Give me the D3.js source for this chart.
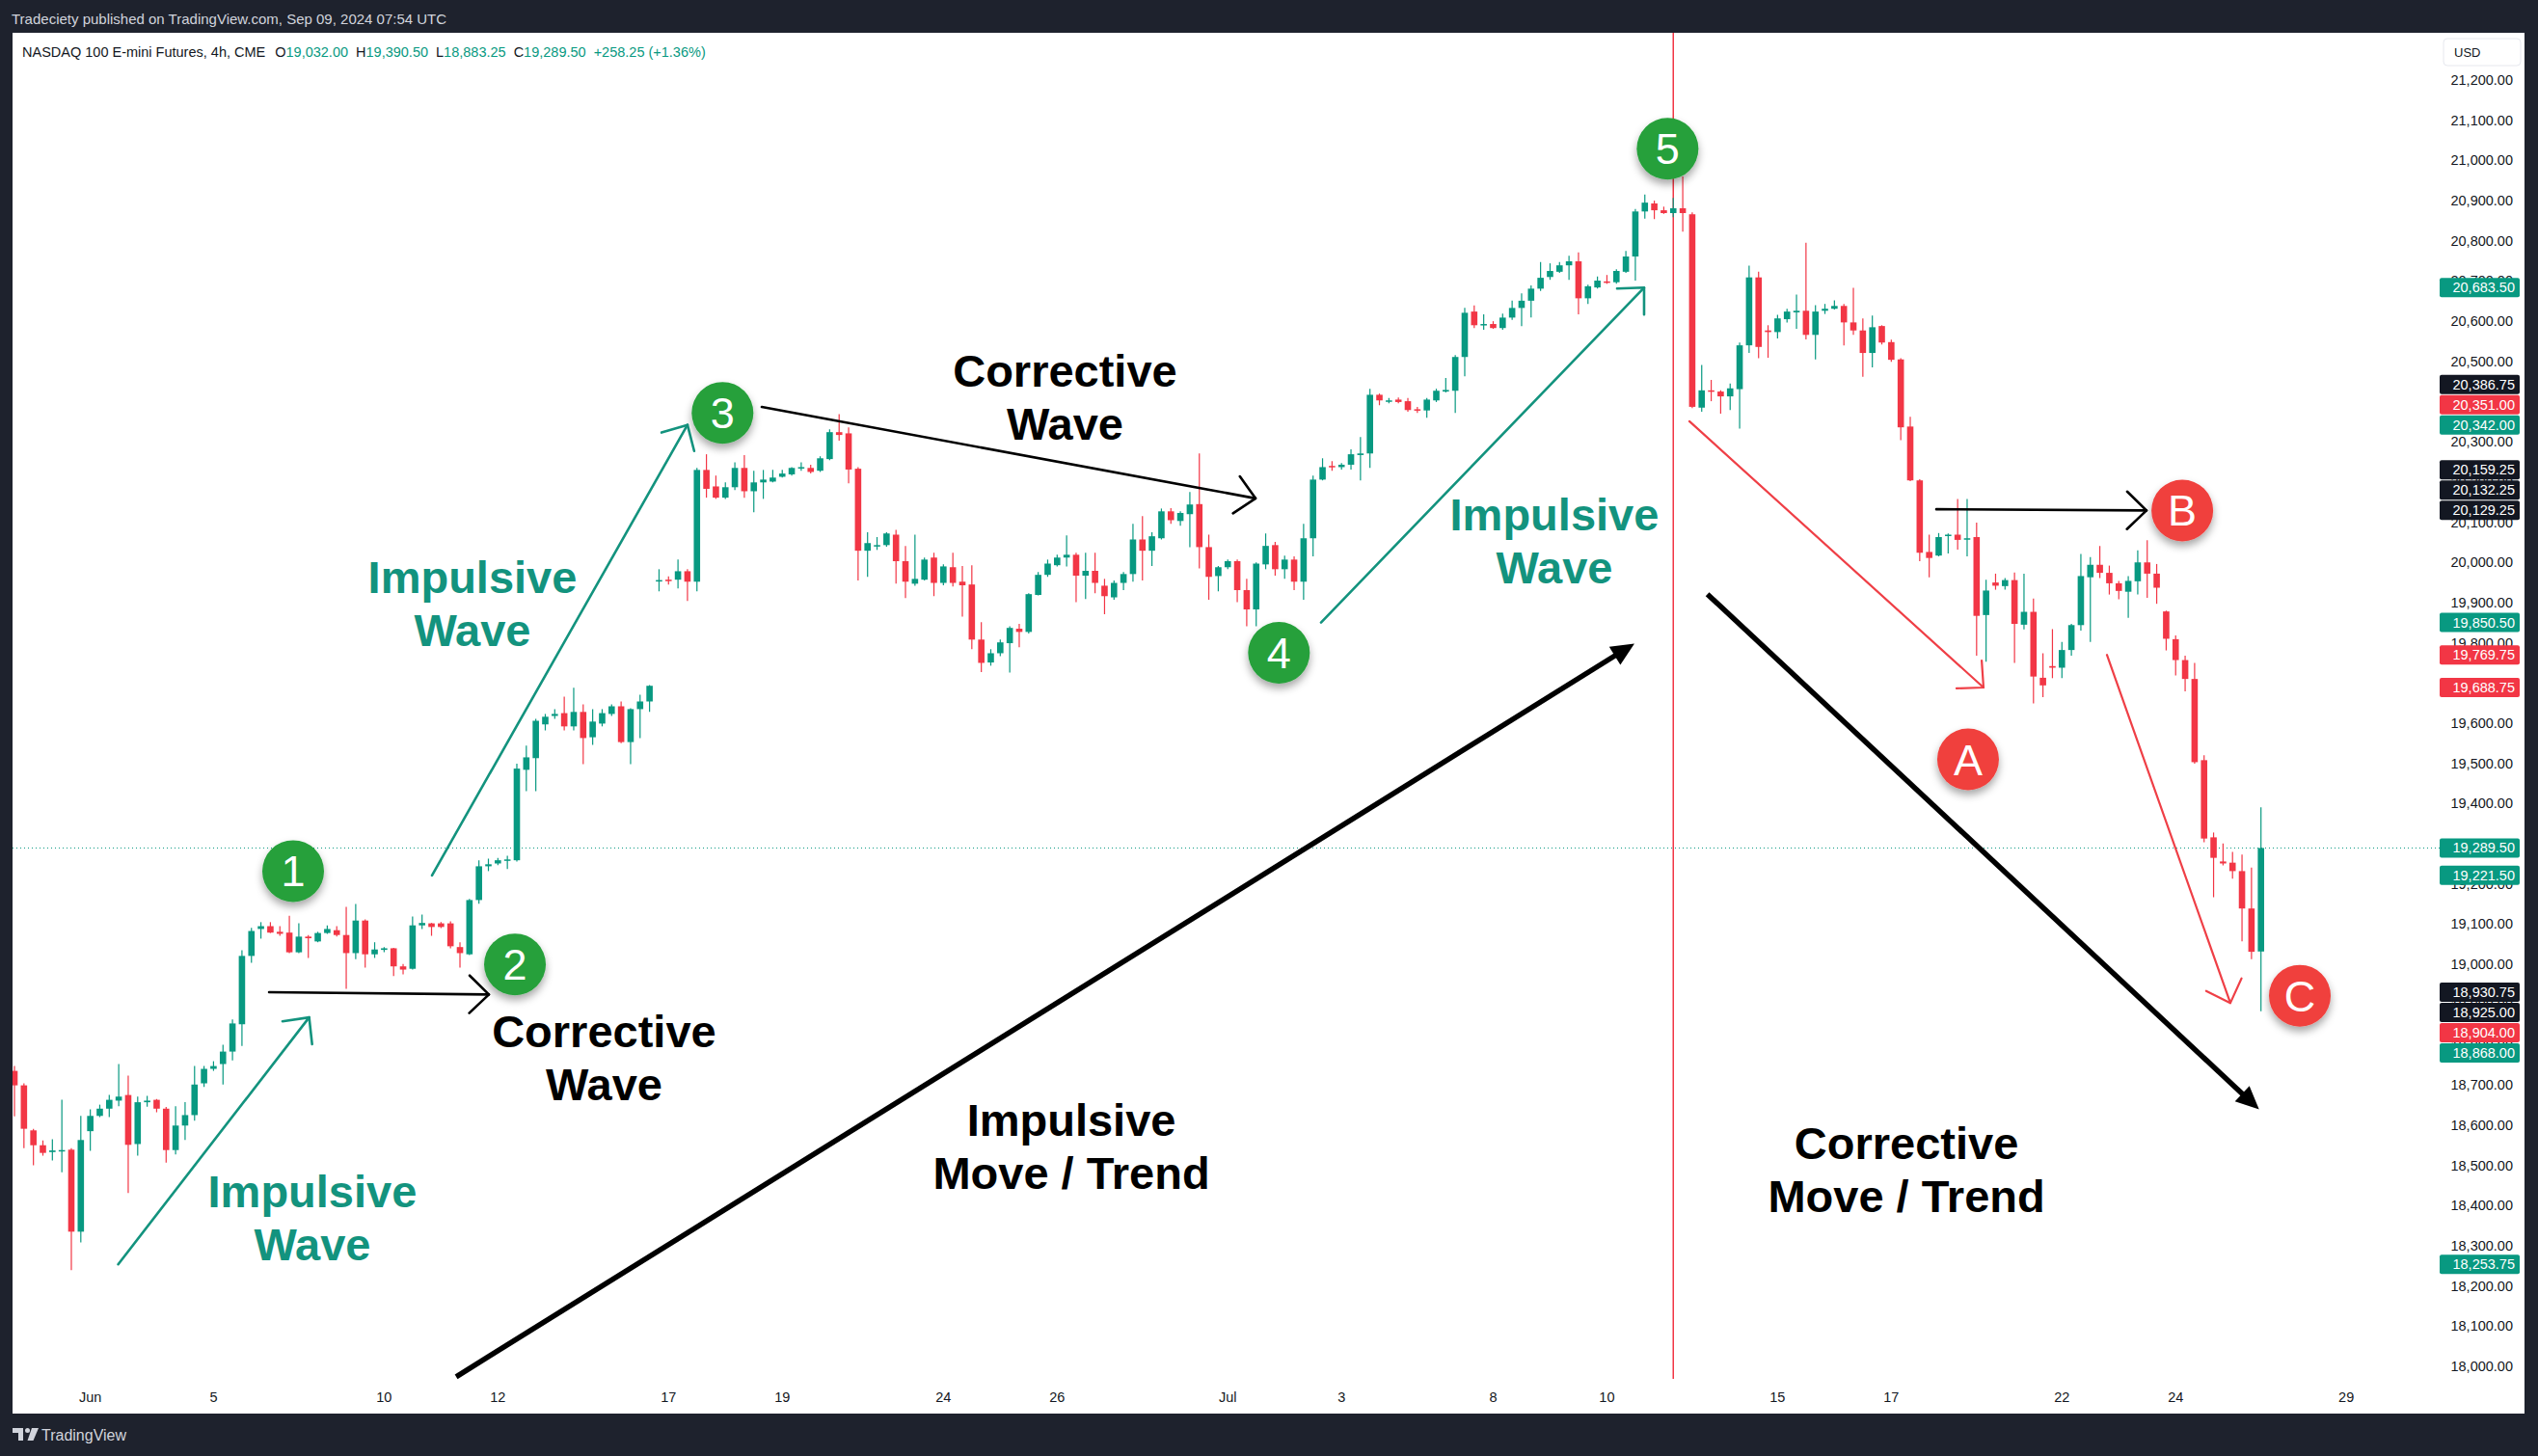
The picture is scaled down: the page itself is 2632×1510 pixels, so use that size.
<!DOCTYPE html>
<html><head><meta charset="utf-8">
<script src="https://cdn.jsdelivr.net/npm/d3@7"></script>
<style>body{margin:0;background:#1e222d;overflow:hidden}svg{display:block}</style>
</head><body>
<svg id="c" width="2632" height="1510"></svg>
<script>
// ---------- DATA ----------
const opens = [
18735,18699,18587,18550,18533,18536,18539,18335,18585,18623,
18641,18661,18675,18553,18657,18663,18641,18538,18599,18625,
18704,18740,18752,18783,18851,19021,19088,19095,19081,19079,
19030,19069,19057,19078,19085,19073,19028,19109,19025,19036,
19040,18995,18989,19097,19102,19102,19102,19043,19025,19160,
19244,19251,19259,19259,19484,19513,19597,19618,19625,19592,
19628,19565,19599,19623,19642,19553,19635,19654,19954,19957,
19957,19978,19952,20230,20189,20161,20187,20235,20177,20199,
20201,20213,20219,20234,20235,20228,20257,20324,20321,20233,
20029,20041,20043,20069,20003,19947,19957,20012,19949,19988,
19952,19945,19808,19751,19774,19799,19835,19827,19919,19969,
19993,20012,20019,19967,19979,19942,19913,19949,19971,20057,
20029,20060,20127,20103,20120,20145,20038,19966,19988,20003,
19931,19883,19995,20043,19983,20007,19952,20060,20206,20240,
20237,20243,20267,20271,20417,20401,20405,20401,20381,20378,
20403,20425,20427,20511,20624,20590,20593,20583,20609,20633,
20651,20681,20710,20723,20739,20749,20657,20684,20699,20697,
20723,20761,20873,20893,20876,20869,20881,20866,20385,20428,
20425,20413,20431,20540,20709,20577,20573,20605,20622,20626,
20566,20626,20631,20638,20597,20577,20521,20588,20548,20505,
20338,20204,20026,20017,20066,20069,20058,20063,19869,19950,
19941,19956,19845,19877,19713,19742,19738,19782,19844,19963,
19994,19974,19948,19927,19953,20000,19972,19878,19809,19757,
19710,19508,19316,19256,19253,19232,19139,19032];
const highs = [
18747,18704,18591,18562,18565,18663,18543,18623,18639,18651,
18675,18752,18723,18671,18673,18665,18645,18647,18657,18747,
18747,18759,18800,18863,19035,19091,19105,19105,19095,19121,
19102,19073,19081,19097,19095,19143,19150,19112,19055,19043,
19041,19001,19119,19124,19103,19105,19107,19055,19163,19259,
19263,19265,19270,19499,19544,19611,19623,19635,19666,19688,
19647,19635,19635,19647,19654,19637,19671,19695,19983,19965,
20007,19983,20235,20269,20216,20199,20249,20267,20228,20230,
20230,20230,20237,20249,20243,20264,20331,20369,20336,20237,
20075,20063,20075,20081,20041,20069,20012,20024,19995,20024,
19991,19993,19851,19784,19808,19841,19847,19923,19976,20007,
20019,20067,20024,20024,20024,19959,19955,19976,20096,20115,
20075,20134,20135,20127,20175,20271,20069,19991,20007,20007,
19959,20000,20072,20051,20017,20015,20096,20216,20259,20252,
20247,20281,20312,20432,20420,20409,20410,20409,20387,20409,
20432,20459,20516,20633,20639,20617,20600,20619,20651,20669,
20689,20747,20744,20747,20763,20771,20691,20711,20715,20729,
20775,20879,20915,20900,20885,20907,20960,20871,20491,20454,
20428,20445,20547,20738,20723,20590,20616,20631,20666,20795,
20640,20643,20652,20643,20683,20607,20614,20590,20554,20508,
20362,20207,20069,20073,20072,20158,20158,20099,19957,19972,
19961,19975,19972,19910,19774,19834,19802,19847,20021,20013,
20041,19992,19954,19966,20030,20055,19996,19880,19818,19768,
19750,19520,19328,19301,19280,19273,19241,19390.5];
const lows = [
18622,18543,18500,18524,18512,18483,18239,18308,18536,18620,
18620,18647,18431,18524,18646,18632,18507,18527,18563,18611,
18695,18735,18701,18761,18797,19004,19064,19078,19071,19028,
19028,19016,19055,19076,19069,18939,19013,18992,19016,19030,
18971,18975,18987,19088,19071,19090,19040,18992,19023,19151,
19232,19247,19237,19256,19431,19431,19582,19611,19582,19582,
19498,19546,19592,19618,19550,19498,19563,19628,19928,19945,
19935,19904,19928,20161,20158,20158,20180,20161,20125,20158,
20199,20211,20216,20228,20221,20225,20254,20303,20197,19955,
19964,20031,20039,19947,19911,19942,19955,19916,19943,19940,
19865,19784,19727,19743,19767,19726,19789,19823,19918,19964,
19990,19990,19901,19909,19923,19871,19907,19931,19952,19955,
19991,20057,20096,20091,20038,19985,19907,19928,19983,19901,
19841,19841,19983,19967,19959,19931,19907,20015,20204,20228,
20231,20231,20204,20235,20391,20396,20396,20375,20372,20360,
20399,20423,20372,20463,20583,20579,20581,20579,20603,20588,
20609,20675,20703,20720,20703,20617,20643,20681,20693,20693,
20720,20701,20855,20854,20867,20859,20823,20384,20375,20401,
20370,20379,20333,20521,20508,20509,20557,20597,20581,20555,
20505,20618,20629,20540,20566,20462,20485,20542,20499,20304,
20202,20003,19963,20015,20022,20032,20015,19768,19753,19932,
19932,19750,19833,19649,19665,19712,19712,19768,19830,19802,
19961,19920,19908,19862,19920,19912,19897,19781,19719,19679,
19499,19304,19167,19246,19213,19057,19013,18883.25];
const closes = [
18699,18591,18550,18531,18537,18538,18335,18563,18623,18641,
18663,18671,18551,18657,18661,18641,18538,18599,18625,18701,
18740,18747,18783,18853,19021,19083,19095,19079,19076,19030,
19069,19065,19078,19088,19073,19028,19109,19025,19037,19040,
18995,18987,19097,19103,19093,19093,19045,19028,19160,19244,
19249,19259,19261,19487,19515,19606,19616,19623,19592,19628,
19563,19604,19625,19642,19553,19635,19654,19693,19956,19955,
19978,19952,20230,20183,20161,20187,20235,20177,20199,20206,
20211,20221,20235,20237,20225,20259,20324,20317,20231,20029,
20048,20043,20072,20003,19952,19959,20007,19949,19990,19949,
19943,19808,19750,19774,19801,19837,19827,19921,19969,19997,
20012,20019,19967,19979,19949,19916,19949,19971,20057,20029,
20065,20127,20105,20123,20144,20038,19964,19988,20003,19931,
19883,19997,20041,19983,20007,19952,20060,20206,20237,20237,
20243,20269,20271,20417,20403,20403,20399,20379,20378,20405,
20427,20429,20511,20621,20590,20593,20583,20609,20633,20651,
20681,20708,20725,20739,20749,20657,20687,20701,20696,20725,
20761,20873,20895,20876,20869,20881,20869,20387,20428,20425,
20413,20433,20540,20709,20536,20573,20607,20624,20626,20566,
20624,20631,20638,20597,20577,20521,20585,20547,20504,20336,
20204,20024,20011,20063,20069,20056,20060,19867,19930,19942,
19956,19847,19877,19716,19694,19738,19782,19844,19966,19994,
19974,19948,19929,19954,20000,19972,19937,19810,19757,19710,
19503,19313,19265,19251,19232,19139,19031.25,19289.5];

// time axis: label and the bar index where the day starts
const dayLabels = ["Jun","5","10","12","17","19","24","26","Jul","3","8","10","15","17","22","24","29"];
const dayBars   = [8,21,39,51,69,81,98,110,128,140,156,168,186,198,216,228,246];

// price scale ticks
const priceTicks = d3.range(18000, 21201, 100);

// price-scale tags (drawing endpoints + last price), in placement order
const tagPrices = [19289.5, 20342, 20351, 20386.75, 20129.25, 20132.25, 20159.25, 18930.75, 18925, 18904, 18868, 20683.5, 19850.5, 19769.75, 19688.75, 19221.5, 18253.75];
const tagKinds  = ["up","up","down","dark","dark","dark","dark","dark","dark","down","up","up","up","down","down","up","up"];

// wave markers (anchored at bar / price)
const markerLabels = ["1","2","3","4","5","A","B","C"];
const markerBars   = [29.4, 52.8, 74.7, 133.4, 174.4, 206.1, 228.7, 241.1];
const markerPrices = [19232, 19000, 20372, 19775, 21029, 19510, 20129, 18922];
const markerKinds  = ["g","g","g","g","g","r","r","r"];

// arrows: start bar/price -> end bar/price
const arrowKinds  = ["teal","teal","teal","black","black","black","red","red","bold","bold"];
const arrowBar1   = [10.94, 44.05, 137.84, 26.86, 78.84, 202.75, 176.7, 220.75, 46.6, 178.6];
const arrowPrice1 = [18253.75, 19221.5, 19850.5, 18930.75, 20386.75, 20132.25, 20351, 19769.75, 17974, 19921];
const arrowBar2   = [31.09, 71.0, 171.92, 50.05, 130.93, 224.92, 207.73, 233.77, 170.9, 236.8];
const arrowPrice2 = [18868, 20342, 20683.5, 18925, 20159.25, 20129.25, 19688.75, 18904, 19798, 18639];

// text notes (centre bar, baseline price of first line)
const noteLines  = [["Impulsive","Wave"],["Impulsive","Wave"],["Impulsive","Wave"],["Corrective","Wave"],["Corrective","Wave"],["Impulsive","Move / Trend"],["Corrective","Move / Trend"]];
const noteBars   = [31.43, 48.32, 162.46, 62.2, 110.83, 111.5, 199.6];
const notePrices = [18395, 19924, 20080, 18794, 20437, 18573, 18516];
const noteKinds  = ["teal","teal","teal","black","black","black","black"];

// ---------- DRAW ----------
const W = 2632, H = 1510;
const UP = "#089981", DOWN = "#f23645", TEAL = "#13937e", FONT = "'Liberation Sans', Arial, sans-serif";
const svg = d3.select("#c");
const defs = svg.append("defs");
const sh = defs.append("filter").attr("id","sh").attr("x","-50%").attr("y","-50%").attr("width","200%").attr("height","200%");
sh.append("feDropShadow").attr("dx",0).attr("dy",5).attr("stdDeviation",4).attr("flood-color","#000").attr("flood-opacity",0.35);
defs.append("clipPath").attr("id","pane").append("rect").attr("x",13).attr("y",34).attr("width",2517).attr("height",1396);

svg.append("rect").attr("width",W).attr("height",H).attr("fill","#1e222d");
svg.append("rect").attr("x",13).attr("y",34).attr("width",2605).attr("height",1432).attr("fill","#ffffff");

const x = d3.scaleLinear().domain([0, 237]).range([15, 15 + 237*9.83]);
const y = d3.scaleLinear().domain([18000, 21200]).range([1417, 83]);

// top caption
svg.append("text").attr("x",12).attr("y",25).attr("font-family",FONT).attr("font-size",15)
  .attr("fill","#d1d4dc").text("Tradeciety published on TradingView.com, Sep 09, 2024 07:54 UTC");

// legend
const n = opens.length - 1;
const fmt = d3.format(",.2f");
const leg = svg.append("text").attr("x",23).attr("y",59).attr("font-family",FONT).attr("font-size",14.5).attr("fill","#131722");
leg.append("tspan").text("NASDAQ 100 E-mini Futures, 4h, CME");
[["O",opens[n]],["H",highs[n]],["L",lows[n]],["C",closes[n]]].forEach((d,i)=>{
  leg.append("tspan").attr("dx", i===0?10:8).text(d[0]);
  leg.append("tspan").attr("fill",UP).text(fmt(d[1]));
});
const chg = closes[n]-closes[n-1];
leg.append("tspan").attr("dx",8).attr("fill",UP).text("+"+fmt(chg)+" (+"+(chg/closes[n-1]*100).toFixed(2)+"%)");

// price axis labels
const axisG = svg.append("g").attr("font-family",FONT).attr("font-size",14.5).attr("fill","#131722");
axisG.selectAll("text").data(priceTicks).join("text")
  .attr("x",2606).attr("y",d=>y(d)+5).attr("text-anchor","end").text(d=>fmt(d));
// USD box
svg.append("rect").attr("x",2534).attr("y",40).attr("width",80).attr("height",28).attr("rx",4)
  .attr("fill","#fff").attr("stroke","#e6e8ee");
svg.append("text").attr("x",2545).attr("y",59).attr("font-family",FONT).attr("font-size",13).attr("fill","#131722").text("USD");

// time axis labels
svg.append("g").attr("font-family",FONT).attr("font-size",14.5).attr("fill","#131722")
  .selectAll("text").data(dayLabels).join("text")
  .attr("x",(d,i)=>x(dayBars[i])).attr("y",1454).attr("text-anchor","middle").text(d=>d);

// pane content
const pane = svg.append("g").attr("clip-path","url(#pane)");

// vertical line
pane.append("line").attr("x1",x(175)).attr("x2",x(175)).attr("y1",34).attr("y2",1430)
  .attr("stroke",DOWN).attr("stroke-width",1.5);

// last price line
pane.append("line").attr("x1",13).attr("x2",2530).attr("y1",y(closes[n])).attr("y2",y(closes[n]))
  .attr("stroke",UP).attr("stroke-width",1).attr("stroke-dasharray","1,3");

// candles
const idx = d3.range(opens.length);
const col = i => closes[i] >= opens[i] ? UP : DOWN;
const cg = pane.append("g");
cg.selectAll("line").data(idx).join("line")
  .attr("x1",i=>x(i)).attr("x2",i=>x(i)).attr("y1",i=>y(highs[i])).attr("y2",i=>y(lows[i]))
  .attr("stroke",col).attr("stroke-width",1.2);
cg.selectAll("rect").data(idx).join("rect")
  .attr("x",i=>x(i)-3.3).attr("width",6.6)
  .attr("y",i=>y(Math.max(opens[i],closes[i])))
  .attr("height",i=>Math.max(1.5, Math.abs(y(opens[i])-y(closes[i]))))
  .attr("fill",col);

// arrows
const arrowColor = {teal:TEAL, black:"#000", red:"#ef3f46", bold:"#000"};
const arrowWidth = {teal:2.6, black:2.6, red:2.2, bold:5.5};
const ag = svg.append("g").attr("fill","none").attr("stroke-linecap","round");
arrowKinds.forEach((k,i)=>{
  const x1=x(arrowBar1[i]), y1=y(arrowPrice1[i]), x2=x(arrowBar2[i]), y2=y(arrowPrice2[i]);
  const a = Math.atan2(y2-y1, x2-x1);
  const c = arrowColor[k];
  if (k === "bold") {
    const L = 24, hw = 11;
    const bx = x2 - L*Math.cos(a), by = y2 - L*Math.sin(a);
    ag.append("line").attr("x1",x1).attr("y1",y1).attr("x2",bx+4*Math.cos(a)).attr("y2",by+4*Math.sin(a))
      .attr("stroke",c).attr("stroke-width",arrowWidth[k]).attr("stroke-linecap","butt");
    const p = [[x2,y2],[bx - hw*Math.sin(a), by + hw*Math.cos(a)],[bx + hw*Math.sin(a), by - hw*Math.cos(a)]];
    ag.append("path").attr("d","M"+p.map(q=>q.join(",")).join("L")+"Z").attr("fill",c).attr("stroke","none");
  } else {
    ag.append("line").attr("x1",x1).attr("y1",y1).attr("x2",x2).attr("y2",y2)
      .attr("stroke",c).attr("stroke-width",arrowWidth[k]);
    const L = 28, h = 44*Math.PI/180;
    const pts = [[x2 - L*Math.cos(a-h), y2 - L*Math.sin(a-h)],[x2,y2],[x2 - L*Math.cos(a+h), y2 - L*Math.sin(a+h)]];
    ag.append("path").attr("d","M"+pts.map(q=>q.join(",")).join("L"))
      .attr("stroke",c).attr("stroke-width",arrowWidth[k]).attr("stroke-linejoin","round");
  }
});

// notes
const ng = svg.append("g").attr("font-family",FONT).attr("font-weight","bold").attr("font-size",47).attr("text-anchor","middle");
noteLines.forEach((lines,i)=>{
  const t = ng.append("text").attr("fill", noteKinds[i]==="teal"?TEAL:"#000");
  lines.forEach((s,j)=>t.append("tspan").attr("x",x(noteBars[i])).attr("y",y(notePrices[i]) + j*55).text(s));
});

// markers
const mg = svg.append("g");
markerLabels.forEach((s,i)=>{
  const g = mg.append("g").attr("transform",`translate(${x(markerBars[i])},${y(markerPrices[i])})`);
  g.append("circle").attr("r",32).attr("fill", markerKinds[i]==="g" ? "#25a03a" : "#f0403d").attr("filter","url(#sh)");
  g.append("text").attr("text-anchor","middle").attr("y",16).attr("font-family",FONT).attr("font-size",45)
    .attr("fill","#fff").text(s);
});

// price-scale tags with simple overlap stacking
const tagFill = {up:UP, down:DOWN, dark:"#131722"};
const TH = 21, placed = [];
tagPrices.forEach((p,i)=>{
  let yy = y(p), dir = 0, hit;
  while ((hit = placed.find(q => Math.abs(q.y - yy) < TH - 0.01))) {
    if (dir === 0) dir = (y(p) <= hit.y) ? -1 : 1;
    yy = hit.y + dir*TH;
  }
  placed.push({y:yy, p, k:tagKinds[i]});
});
const tg = svg.append("g").attr("font-family",FONT).attr("font-size",14.5);
placed.forEach(t=>{
  tg.append("rect").attr("x",2530).attr("y",t.y-10).attr("width",83).attr("height",20).attr("rx",2).attr("fill",tagFill[t.k]);
  tg.append("text").attr("x",2608).attr("y",t.y+5).attr("text-anchor","end").attr("fill","#fff").text(fmt(t.p));
});

// bottom logo
const lg = svg.append("g").attr("fill","#d1d4dc");
lg.append("path").attr("d","M13,1481 h11 v13 h-5 v-8 h-6 z");
lg.append("circle").attr("cx",28.5).attr("cy",1483.5).attr("r",2.5);
lg.append("path").attr("d","M33,1481 h7 l-5.5,13 h-6 z");
svg.append("text").attr("x",43).attr("y",1494).attr("font-family",FONT).attr("font-size",16).attr("fill","#d1d4dc").text("TradingView");
</script>
</body></html>
